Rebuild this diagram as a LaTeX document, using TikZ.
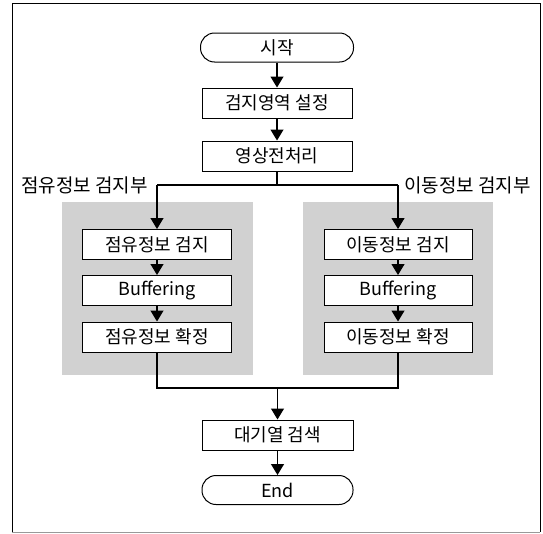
\documentclass[tikz,border=0pt]{standalone}
\usepackage{fontspec}
\setmainfont{Noto Sans CJK KR}
\usetikzlibrary{arrows.meta}
\begin{document}
\begin{tikzpicture}[x=1pt,y=-1pt,
  every node/.style={font=\fontsize{18}{20}\selectfont},
  procbox/.style={draw,line width=1pt,fill=white,minimum width=150pt,minimum height=30pt,inner sep=0pt},
  termbox/.style={draw,line width=1pt,fill=white,rounded corners=14pt,minimum width=153pt,minimum height=29pt,inner sep=0pt},
  lab/.style={inner sep=0pt,font=\fontsize{19}{21}\selectfont},
  shade/.style={fill=black!18,draw=none},
  flow/.style={line width=1.2pt,-{Triangle[width=13pt,length=11pt]}},
  link/.style={line width=1.2pt}]
\useasboundingbox (0,0) rectangle (543,533);
\draw[line width=1pt] (12,532) -- (12,3) -- (540,3) -- (540,532);
\draw[line width=0.6pt,black!40] (12,532) -- (540,532);
% shaded regions
\fill[shade] (62,202) rectangle (253,375);
\fill[shade] (303,202) rectangle (493,375);
% main nodes
\node[termbox] (start) at (277,47.5) {시작};
\node[procbox] (area) at (277,103) {검지영역 설정};
\node[procbox] (pre) at (277,156) {영상전처리};
\node[procbox,minimum width=149pt] (ld) at (157,244.5) {점유정보 검지};
\node[procbox,minimum width=149pt] (lb) at (157,290.5) {Buffering};
\node[procbox,minimum width=149pt] (lc) at (157,337) {점유정보 확정};
\node[procbox,minimum width=148pt] (rd) at (398,244.5) {이동정보 검지};
\node[procbox,minimum width=148pt] (rb) at (398,290.5) {Buffering};
\node[procbox,minimum width=148pt] (rc) at (398,337) {이동정보 확정};
\node[procbox,minimum width=151pt] (queue) at (277.5,435) {대기열 검색};
\node[termbox,minimum width=151pt] (endn) at (277.5,490) {End};
% labels
\node[lab,anchor=west] (llab) at (21,185) {점유정보 검지부};
\node[lab,anchor=east] (rlab) at (531,185) {이동정보 검지부};
% coordinates
\coordinate (split) at (277,185);
\coordinate (lsplit) at (157,185);
\coordinate (rsplit) at (398,185);
\coordinate (join) at (277.5,388);
\coordinate (ljoin) at (157,388);
\coordinate (rjoin) at (398,388);
% connectors
\draw[flow] (start) -- (area);
\draw[flow] (area) -- (pre);
\draw[link] (pre) -- (split);
\draw[link] (lsplit) -- (rsplit);
\draw[flow] (lsplit) -- (ld);
\draw[flow] (rsplit) -- (rd);
\draw[flow] (ld) -- (lb);
\draw[flow] (lb) -- (lc);
\draw[flow] (rd) -- (rb);
\draw[flow] (rb) -- (rc);
\draw[link] (lc) -- (ljoin) -- (rjoin) -- (rc);
\draw[flow] (join) -- (queue);
\draw[flow] (queue) -- (endn);
\end{tikzpicture}
\end{document}
